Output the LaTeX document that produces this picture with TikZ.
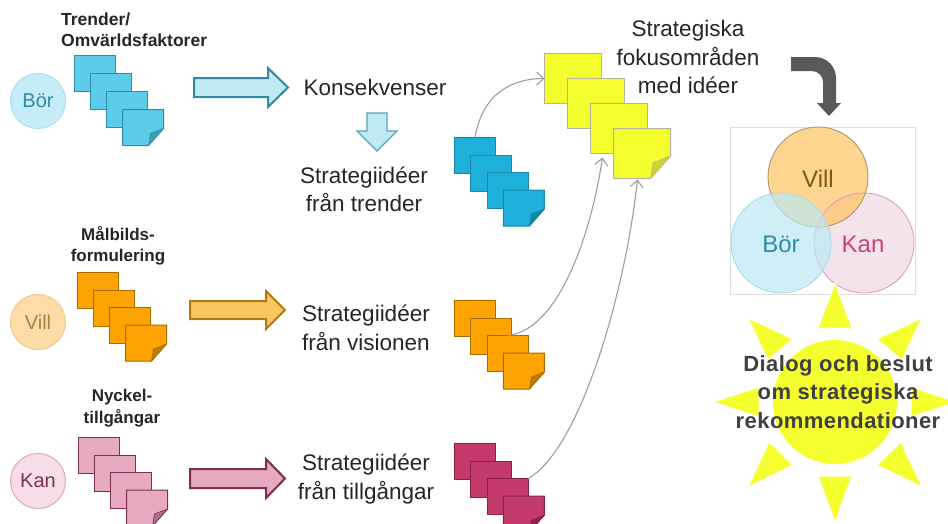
\documentclass[tikz,border=0pt]{standalone}
\usepackage{fontspec}
\setmainfont{Liberation Sans}
\usetikzlibrary{arrows.meta,calc}
\definecolor{tfill}{HTML}{5BCDEB}\definecolor{tline}{HTML}{2E8CA5}\definecolor{tfold}{HTML}{3E9DB8}
\definecolor{cfill}{HTML}{1CB0DA}\definecolor{cline}{HTML}{1B86A6}\definecolor{cfold}{HTML}{1685A6}
\definecolor{yfill}{HTML}{F5FF2D}\definecolor{yline}{HTML}{B4B49C}\definecolor{yfold}{HTML}{CFD32E}
\definecolor{ofill}{HTML}{FFA300}\definecolor{oline}{HTML}{A56C00}\definecolor{ofold}{HTML}{C07C00}
\definecolor{mfill}{HTML}{FFA300}\definecolor{mline}{HTML}{A56C00}\definecolor{mfold}{HTML}{C07C00}
\definecolor{kfill}{HTML}{E6A9C0}\definecolor{kline}{HTML}{7D2D50}\definecolor{kfold}{HTML}{A8708A}
\definecolor{rfill}{HTML}{C43A6C}\definecolor{rline}{HTML}{8A2048}\definecolor{rfold}{HTML}{8E2450}
\definecolor{sunyellow}{HTML}{F5FF2D}
\definecolor{borblue}{HTML}{2E8CA5}\definecolor{vilbrown}{HTML}{7F5A10}\definecolor{vilsoft}{HTML}{A5823F}
\definecolor{kanred}{HTML}{C9437A}\definecolor{kandark}{HTML}{7D3055}
\definecolor{txt}{HTML}{262626}
\tikzset{
 card/.style={rectangle,anchor=north west,inner sep=0pt,outer sep=0pt,line width=1pt},
 bigtext/.style={align=center,text=txt,font=\fontsize{22.5}{28.5}\selectfont,inner sep=0pt},
 boldlabel/.style={align=center,text=txt,font=\fontsize{17}{21.5}\selectfont\bfseries,inner sep=0pt},
 conn/.style={draw=black!38,line width=1.1pt,-{Straight Barb[length=7pt,width=13pt]}},
 blockarrow/.style={line width=2pt,line join=miter},
 ray/.style={fill=sunyellow,draw=white,line width=1pt,line join=miter},
 smallcirc/.style={circle,minimum size=55pt,inner sep=0pt,line width=1pt,font=\fontsize{20}{24}\selectfont},
}
\newcommand{\cardstack}[8]{%
 \node[card,draw=#1line,fill=#1fill,minimum width=#4pt,minimum height=#5pt] (#11) at (#2,#3) {};
 \node[card,draw=#1line,fill=#1fill,minimum width=#4pt,minimum height=#5pt] (#12) at ([xshift=#6pt,yshift=-#7pt]#11.north west) {};
 \node[card,draw=#1line,fill=#1fill,minimum width=#4pt,minimum height=#5pt] (#13) at ([xshift=#6pt,yshift=-#7pt]#12.north west) {};
 \node[card,minimum width=#4pt,minimum height=#5pt] (#14) at ([xshift=#6pt,yshift=-#7pt]#13.north west) {};
 \draw[draw=#1line,fill=#1fill,line width=1pt,line join=round] (#14.north west) -- (#14.north east)
   -- ([yshift=17*#8 pt]#14.south east) -- ([xshift=-15*#8 pt]#14.south east) -- (#14.south west) -- cycle;
 \draw[draw=#1line,fill=#1fold,line width=.6pt,line join=round] ([yshift=17*#8 pt]#14.south east)
   -- ([xshift=-13*#8 pt,yshift=12*#8 pt]#14.south east) -- ([xshift=-15*#8 pt]#14.south east) -- cycle;
}
\begin{document}
\begin{tikzpicture}[x=1pt,y=-1pt]
\clip (0,0) rectangle (948,523);
\fill[white] (0,0) rectangle (948,523);

% small circles
\node[smallcirc,fill={rgb,255:red,197;green,236;blue,248},draw={rgb,255:red,168;green,224;blue,240},text=borblue] (sbor) at (38,101) {Bör};
\node[smallcirc,fill={rgb,255:red,253;green,220;blue,168},draw={rgb,255:red,240;green,200;blue,140},text=vilsoft] (svil) at (38,322) {Vill};
\node[smallcirc,fill={rgb,255:red,246;green,221;blue,231},draw={rgb,255:red,224;green,168;blue,192},text=kandark] (skan) at (38,481) {Kan};

% card stacks
\cardstack{t}{74.5}{55.5}{41}{36}{16}{18}{1}
\cardstack{m}{77.5}{272.5}{41}{36}{16}{17.5}{1}
\cardstack{k}{78.5}{437.5}{41}{36}{16}{17.5}{1}
\cardstack{c}{454.5}{137.5}{41}{36}{16.3}{17.5}{1}
\cardstack{o}{454.5}{300.5}{41}{36}{16.3}{17.5}{1}
\cardstack{r}{454.5}{443.5}{41}{36}{16.3}{17.5}{1}
\cardstack{y}{544.5}{53.5}{57}{50}{23}{25}{1.33}

% block arrows
\draw[blockarrow,draw=tline,fill={rgb,255:red,190;green,233;blue,245}] (194,78) -- (268,78) -- (268,68) -- (288,87.5) -- (268,107) -- (268,97) -- (194,97) -- cycle;
\draw[blockarrow,draw={rgb,255:red,176;green,122;blue,16},fill={rgb,255:red,251;green,197;blue,96}] (190,301) -- (266,301) -- (266,291) -- (285,310) -- (266,329) -- (266,319) -- (190,319) -- cycle;
\draw[blockarrow,draw=kline,fill=kfill] (190,469) -- (266,469) -- (266,459) -- (285,478.5) -- (266,498) -- (266,488) -- (190,488) -- cycle;
\draw[line width=1.3pt,draw=tline!80,fill={rgb,255:red,190;green,233;blue,245}] (367,113) -- (387,113) -- (387,131) -- (397,131) -- (377,151) -- (357,131) -- (367,131) -- cycle;
% bent grey arrow
\fill[black!65] (791,57) -- (815,57) arc[start angle=-90,end angle=0,radius=21] -- (836,103) -- (841,103) -- (829,116) -- (817,103) -- (823,103) -- (823,82) arc[start angle=0,end angle=-90,radius=11] -- (791,71) -- cycle;

% texts
\node[boldlabel,align=left,anchor=west,font=\fontsize{17.5}{21}\selectfont\bfseries] (ltrend) at (61,30) {Trender/\\Omvärldsfaktorer};
\node[boldlabel] (lmal) at (118,246) {Målbilds-\\formulering};
\node[boldlabel] (lnyc) at (122,408) {Nyckel-\\tillgångar};
\node[bigtext] (konsek) at (375,87) {Konsekvenser};
\node[bigtext] (idetrend) at (364,189.5) {Strategiidéer\\från trender};
\node[bigtext] (idevis) at (366,328) {Strategiidéer\\från visionen};
\node[bigtext] (idetill) at (366,479) {Strategiidéer\\från tillgångar};
\node[bigtext] (fokus) at (688,57) {Strategiska\\fokusområden\\med idéer};

% connectors
\draw[conn] (c1.north) .. controls +(8,-47) and +(-29,0) .. (y1.west);
\draw[conn] (o3.north) .. controls +(50,-5) and +(-12,80) .. ([xshift=12pt,yshift=-4pt]y3.south west);
\draw[conn] (r3.north east) .. controls +(52,-29) and +(-12,112) .. ([xshift=24pt,yshift=-1pt]y4.south west);

% venn
\node[rectangle,draw=black!13,line width=.7pt,minimum width=185pt,minimum height=167pt,anchor=north west,inner sep=0pt] (vennbox) at (730,127) {};
\coordinate (cv) at (818,177);
\coordinate (cb) at (781,243);
\coordinate (ck) at (864,243);
\fill[fill={rgb,255:red,253;green,213;blue,144}] (cv) circle[radius=50];
\fill[fill={rgb,255:red,245;green,227;blue,236}] (ck) circle[radius=50];
\begin{scope}
 \clip (cv) circle[radius=50];
 \fill[fill={rgb,255:red,251;green,203;blue,135}] (ck) circle[radius=50];
\end{scope}
\draw[draw={rgb,255:red,224;green,160;blue,188},line width=.9pt] (ck) circle[radius=50];
\draw[draw={rgb,255:red,184;green,148;blue,90},line width=.9pt] (cv) circle[radius=50];
\fill[fill={rgb,255:red,188;green,232;blue,245},fill opacity=.7] (cb) circle[radius=50];
\draw[draw={rgb,255:red,168;green,220;blue,235},line width=.9pt] (cb) circle[radius=50];
\node[text=vilbrown,font=\fontsize{24}{28}\selectfont,inner sep=0pt] (tvill) at (818,179) {Vill};
\node[text=borblue,font=\fontsize{24}{28}\selectfont,inner sep=0pt] (tbor) at (781,244) {Bör};
\node[text=kanred,font=\fontsize{24}{28}\selectfont,inner sep=0pt] (tkan) at (863,244) {Kan};

% sun
\fill[sunyellow] (835,402) circle[radius=62];
\path[ray] (835,283) -- (852,328) -- (818,328) -- cycle;
\path[ray] (835,522) -- (852,476) -- (818,476) -- cycle;
\path[ray] (713,402) -- (759,387) -- (759,417) -- cycle;
\path[ray] (957,402) -- (911,387) -- (911,417) -- cycle;
\path[ray] (748,318) -- (793,339) -- (768,360) -- cycle;
\path[ray] (922,318) -- (877,339) -- (902,360) -- cycle;
\path[ray] (748,487) -- (793,465) -- (769,442) -- cycle;
\path[ray] (922,487) -- (877,465) -- (901,442) -- cycle;
\node[align=center,inner sep=0pt,text=black!75,font=\fontsize{22}{28.5}\selectfont\bfseries\addfontfeature{LetterSpace=2}] (suntext) at (838,392) {Dialog och beslut\\om strategiska\\rekommendationer};
\end{tikzpicture}
\end{document}
